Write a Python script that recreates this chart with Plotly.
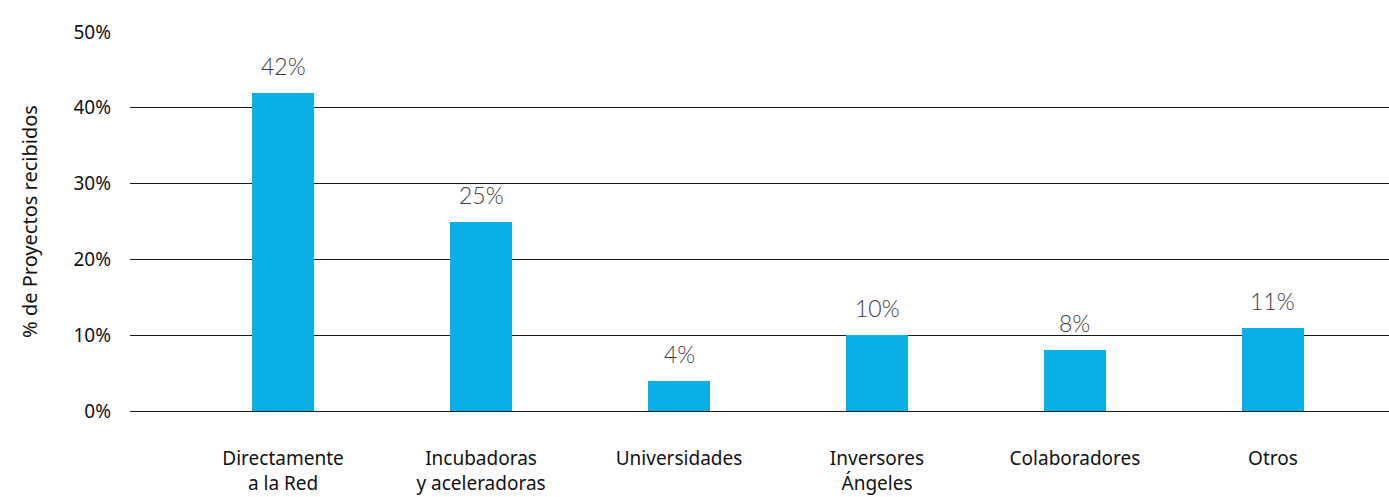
import plotly.graph_objects as go

# Source of projects received by the network
categories = [
    "Directamente<br>a la Red",
    "Incubadoras<br>y aceleradoras",
    "Universidades",
    "Inversores<br>Ángeles",
    "Colaboradores",
    "Otros",
]
values = [42, 25, 4, 10, 8, 11]
y_ticks = [0, 10, 20, 30, 40, 50]
y_tick_labels = ["0%", "10%", "20%", "30%", "40%", "50%"]

BAR_COLOR = "#0aafe5"
TEXT_COLOR = "#111111"

fig = go.Figure(
    go.Bar(
        x=list(range(len(categories))),
        y=values,
        width=0.315,
        marker=dict(color=BAR_COLOR, line=dict(width=0)),
        hoverinfo="skip",
    )
)

# Value labels above each bar
for i, v in enumerate(values):
    fig.add_annotation(
        x=i, y=v, text=f"{v}%", showarrow=False,
        yanchor="bottom", yshift=11,
        font=dict(family="Lato", size=23, color="#3c3c3c", weight=300),
    )

fig.update_layout(
    width=1389, height=497,
    margin=dict(l=130, r=0, t=32, b=86),
    paper_bgcolor="white", plot_bgcolor="white",
    showlegend=False,
    bargap=0,
)

fig.update_xaxes(
    range=[-0.773, 5.586],
    tickmode="array",
    tickvals=list(range(len(categories))),
    ticktext=categories,
    tickfont=dict(family="Noto Sans", size=19, color=TEXT_COLOR),
    ticks="", ticklabelstandoff=34,
    showgrid=False, zeroline=False, showline=False,
    automargin=False,
)

fig.update_yaxes(
    range=[0, 50],
    tickmode="array",
    tickvals=y_ticks,
    ticktext=y_tick_labels,
    tickfont=dict(family="Noto Sans", size=19, color=TEXT_COLOR),
    ticks="", ticklabelstandoff=18,
    showgrid=True, gridcolor="#1a1a1a", gridwidth=1,
    zeroline=True, zerolinecolor="#1a1a1a", zerolinewidth=1,
    showline=False,
    automargin=False,
    title=dict(text="% de Proyectos recibidos", standoff=30,
               font=dict(family="Noto Sans", size=20, color=TEXT_COLOR)),
)

fig.write_html("out.html")
